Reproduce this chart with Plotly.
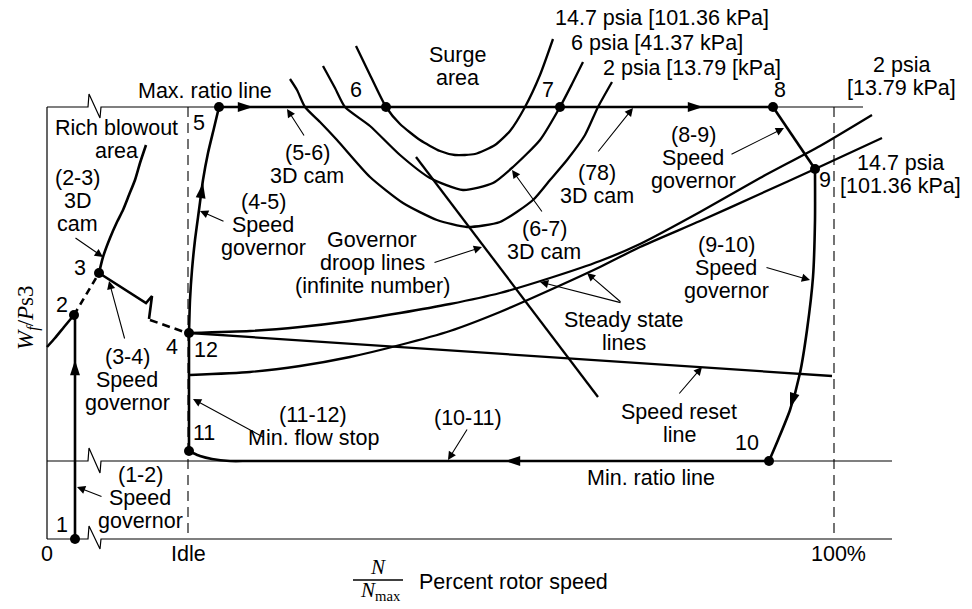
import plotly.graph_objects as go

# ---------------- data (diagram coordinates: x to the right, y downward) ----------------
# reference / frame lines
max_ratio_x = [47, 88, 89, 100, 101, 863]
max_ratio_y = [107, 107, 94, 118, 107, 107]
min_ratio_x = [47, 88, 89, 100, 101, 892]
min_ratio_y = [461, 461, 448, 473, 461, 461]
bottom_x = [47, 88, 89, 100, 101, 892]
bottom_y = [539, 539, 526, 549, 539, 539]
left_x = [47, 47]
left_y = [107, 539]
idle_x = [188, 188]
idle_y = [107, 539]
full_x = [834, 834]
full_y = [107, 539]

# rich blowout boundary
blow_lo_x = [47, 55, 64, 74]
blow_lo_y = [347, 338, 327, 315]
blow_mid_x = [74, 86, 99]
blow_mid_y = [315, 295, 273]
blow_hi_x = [99, 103, 110, 117, 123, 129, 135, 140, 146]
blow_hi_y = [273, 257, 238, 222, 210, 195, 180, 163, 145]

# acceleration / deceleration path
p12_x = [75, 75]
p12_y = [539, 315]
p34a_x = [99, 146, 152, 149]
p34a_y = [273, 303, 296, 319]
p34b_x = [150, 190]
p34b_y = [320, 334]
p45_x = [189, 190, 192, 195, 199, 203, 208, 214, 219]
p45_y = [333, 300, 270, 240, 210, 180, 153, 128, 107]
p58_x = [219, 773]
p58_y = [107, 107]
p89_x = [773, 815]
p89_y = [107, 169]
p910_x = [815, 815, 813, 807, 800, 790, 778, 769]
p910_y = [169, 220, 277, 330, 373, 410, 440, 461]
p1011_x = [769, 250, 230, 212, 200, 193, 189]
p1011_y = [461, 461, 461, 459, 456, 453, 451]
p1112_x = [189, 189]
p1112_y = [451, 333]

# steady-state lines, speed reset line, droop line
ss_a_x = [190, 250, 300, 350, 400, 450, 500, 550, 600, 640, 700, 760, 820, 872]
ss_a_y = [333, 331, 327, 321, 313, 304, 293, 278, 261, 244, 212, 178, 146, 115]
ss_b_x = [190, 250, 300, 350, 400, 450, 500, 550, 600, 640, 700, 760, 815, 882]
ss_b_y = [375, 372, 366, 357, 345, 331, 312, 290, 267, 247, 221, 194, 169, 138]
reset_x = [190, 832]
reset_y = [333, 376]
droop_x = [416, 598]
droop_y = [157, 397]

# constant pressure (surge) curves
psi147_x = [356, 370, 386, 400, 420, 440, 455, 475, 495, 510, 525, 540, 553]
psi147_y = [46, 75, 107, 124, 140, 151, 155, 154, 145, 131, 107, 75, 39]
psi6_x = [323, 335, 345, 370, 400, 430, 463, 493, 513, 540, 560, 572, 583]
psi6_y = [66, 88, 107, 126, 155, 178, 190, 183, 167, 140, 107, 84, 62]
psi2_x = [290, 297, 305, 320, 337, 370, 403, 437, 467, 500, 533, 550, 567, 585, 598, 612]
psi2_y = [79, 90, 107, 122, 140, 177, 203, 220, 227, 222, 200, 180, 160, 135, 107, 82]

# state points
node_x = [75, 74, 99, 189, 219, 386, 560, 773, 815, 769, 189]
node_y = [539, 315, 273, 333, 107, 107, 107, 107, 169, 461, 451]
node_lbl = ["1", "2", "3", "4", "12", "5", "6", "7", "8", "9", "10", "11"]
node_lbl_x = [62, 62, 80, 172, 206, 199, 356, 548, 780, 825, 747, 204]
node_lbl_y = [525, 305, 268, 347, 350, 123, 90, 90, 90, 180, 443, 433]

# flow direction arrowheads
flow_x = [75, 203, 253, 703, 790, 505]
flow_y = [360, 183, 107, 107, 408, 461]
flow_ang = [0, 9, 90, 90, 198, 270]

# leader arrows: tail -> head
lead_tx = [74, 125, 103, 225, 305, 543, 597, 730, 433, 622, 622, 765, 678, 265, 468]
lead_ty = [237, 340, 497, 222, 137, 213, 153, 155, 263, 303, 303, 267, 395, 438, 428]
lead_hx = [103, 109, 77, 200, 287, 512, 633, 784, 482, 540, 587, 810, 702, 193, 448]
lead_hy = [257, 281, 487, 211, 109, 170, 108, 128, 247, 282, 273, 280, 367, 399, 460]

# text blocks: lines, centre x, first-line y
labels = [
    (["Rich blowout", "area"], 116, 128),
    (["(2-3)", "3D", "cam"], 77, 178),
    (["(3-4)", "Speed", "governor"], 127, 357),
    (["(1-2)", "Speed", "governor"], 140, 475),
    (["(4-5)", "Speed", "governor"], 263, 202),
    (["(5-6)", "3D cam"], 307, 153),
    (["Governor", "droop lines", "(infinite number)"], 372, 240),
    (["(6-7)", "3D cam"], 544, 229),
    (["(78)", "3D cam"], 597, 173),
    (["(8-9)", "Speed", "governor"], 693, 135),
    (["(9-10)", "Speed", "governor"], 726, 245),
    (["Steady state", "lines"], 624, 320),
    (["Speed reset", "line"], 679, 412),
    (["Min. ratio line"], 651, 478),
    (["(10-11)"], 468, 418),
    (["(11-12)", "Min. flow stop"], 313, 415),
    (["Surge", "area"], 457, 55),
    (["Max. ratio line"], 205, 91),
    (["14.7 psia [101.36 kPa]"], 662, 18),
    (["6 psia [41.37 kPa]"], 657, 43),
    (["2 psia [13.79 [kPa]"], 692, 68),
    (["2 psia", "[13.79 kPa]"], 901, 65),
    (["14.7 psia", "[101.36 kPa]"], 900, 163),
    (["0"], 47, 554),
    (["Idle"], 188, 554),
    (["100%"], 838, 554),
    (["Percent rotor speed"], 513, 582),
]
line_gap = 23

# ---------------- figure ----------------
fig = go.Figure()
BLACK = "#000000"


def add_line(xs, ys, w, dash="solid"):
    fig.add_trace(go.Scatter(x=xs, y=ys, mode="lines", hoverinfo="skip",
                             line=dict(color=BLACK, width=w, dash=dash, shape="spline", smoothing=0.6)))


def add_poly(xs, ys, w, dash="solid"):
    fig.add_trace(go.Scatter(x=xs, y=ys, mode="lines", hoverinfo="skip",
                             line=dict(color=BLACK, width=w, dash=dash)))


# thin frame lines
for xs, ys in [(max_ratio_x, max_ratio_y), (min_ratio_x, min_ratio_y), (bottom_x, bottom_y), (left_x, left_y)]:
    add_poly(xs, ys, 1.2)
add_poly(idle_x, idle_y, 1.1, dash="10px,6px")
add_poly(full_x, full_y, 1.1, dash="10px,6px")

# curves
TH = 2.6
add_line(blow_lo_x, blow_lo_y, TH)
add_poly(blow_mid_x, blow_mid_y, TH, dash="7px,5px")
add_line(blow_hi_x, blow_hi_y, TH)
add_poly(p12_x, p12_y, TH)
add_poly(p34a_x, p34a_y, TH)
add_poly(p34b_x, p34b_y, TH, dash="8px,5px")
add_line(p45_x, p45_y, TH)
add_poly(p58_x, p58_y, TH)
add_poly(p89_x, p89_y, TH)
add_line(p910_x, p910_y, TH)
add_line(p1011_x, p1011_y, TH)
add_poly(p1112_x, p1112_y, TH)
add_line(ss_a_x, ss_a_y, 2.3)
add_line(ss_b_x, ss_b_y, 2.3)
add_poly(reset_x, reset_y, 2.3)
add_poly(droop_x, droop_y, 2.3)
add_line(psi147_x, psi147_y, 2.3)
add_line(psi6_x, psi6_y, 2.3)
add_line(psi2_x, psi2_y, 2.3)

# flow arrowheads
fig.add_trace(go.Scatter(x=flow_x, y=flow_y, mode="markers", hoverinfo="skip",
                         marker=dict(symbol="arrow", size=16, angle=flow_ang, color=BLACK,
                                     line=dict(width=0))))
# state points
fig.add_trace(go.Scatter(x=node_x, y=node_y, mode="markers", hoverinfo="skip",
                         marker=dict(symbol="circle", size=10, color=BLACK)))

FONT = dict(family="Liberation Sans, Arial, sans-serif", size=21.5, color=BLACK)
ann = []
for lx, ly, t in zip(node_lbl_x, node_lbl_y, node_lbl):
    ann.append(dict(x=lx, y=ly, text=t, showarrow=False, xanchor="center", yanchor="middle", font=FONT))

for lines, cx, cy in labels:
    for i, t in enumerate(lines):
        ann.append(dict(x=cx, y=cy + i * line_gap, text=t, showarrow=False,
                        xanchor="center", yanchor="middle", font=FONT))

for tx, ty, hx, hy in zip(lead_tx, lead_ty, lead_hx, lead_hy):
    ann.append(dict(x=hx, y=hy, ax=tx, ay=ty, xref="x", yref="y", axref="x", ayref="y",
                    text="", showarrow=True, arrowhead=2, arrowsize=1.5, arrowwidth=1.1,
                    arrowcolor=BLACK))

SERIF = dict(family="Liberation Serif, DejaVu Serif, serif", size=23, color=BLACK)
# y-axis title
ann.append(dict(x=27, y=318, text="<i>W</i><sub><i>f</i></sub>/<i>P</i>s3", showarrow=False,
                textangle=-90, xanchor="center", yanchor="middle", font=SERIF))
# N / N_max fraction
FRAC = dict(family="Liberation Serif, DejaVu Serif, serif", size=21, color=BLACK)
ann.append(dict(x=378, y=567, text="<i>N</i>", showarrow=False, xanchor="center",
                yanchor="middle", font=FRAC))
ann.append(dict(x=380, y=591, text="<i>N</i><sub>max</sub>", showarrow=False, xanchor="center",
                yanchor="middle", font=FRAC))
frac_x = [353, 403]
frac_y = [580, 580]
add_poly(frac_x, frac_y, 1.3)

fig.update_layout(
    width=972, height=609,
    margin=dict(l=0, r=0, t=0, b=0),
    paper_bgcolor="white", plot_bgcolor="white",
    showlegend=False,
    xaxis=dict(range=[0, 972], visible=False, fixedrange=True),
    yaxis=dict(range=[609, 0], visible=False, fixedrange=True),
    annotations=ann,
)

fig.write_html("out.html")
